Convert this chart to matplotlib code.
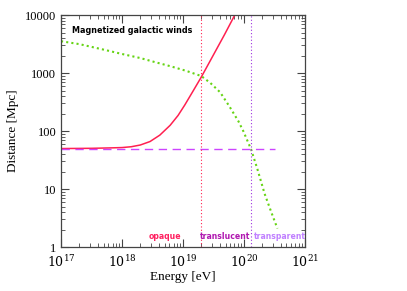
import numpy as np
import matplotlib
matplotlib.use("Agg")
import matplotlib.pyplot as plt
from matplotlib.ticker import LogLocator, NullFormatter

# curves (log10 E [eV], log10 D [Mpc])
red_logE = [17.0, 17.5, 17.8, 18.0, 18.15, 18.30, 18.46, 18.62, 18.79, 18.92,
            19.03, 19.16, 19.30, 19.42, 19.55, 19.68, 19.80, 19.86]
red_logD = [1.699, 1.703, 1.71, 1.716, 1.73, 1.76, 1.82, 1.93, 2.10, 2.27,
            2.45, 2.68, 2.93, 3.16, 3.41, 3.66, 3.90, 4.02]

green_logE = [17.0, 17.3, 17.72, 18.0, 18.3, 18.54, 18.79, 19.05, 19.30, 19.45,
              19.61, 19.76, 19.91, 19.99, 20.12, 20.22, 20.34, 20.45, 20.55]
green_logD = [3.55, 3.50, 3.40, 3.33, 3.26, 3.19, 3.12, 3.04, 2.95, 2.83,
              2.67, 2.43, 2.17, 2.00, 1.68, 1.35, 0.92, 0.60, 0.32]

dash_E = [1e17, 3.3e20]
dash_D = [50, 50]

E_opaque = 2e19
E_transp = 1.3e20

regions = ["opaque", "translucent", "transparent"]
region_x = [5.0e18, 5.0e19, 3.9e20]
region_col = ["#ff2060", "#b018b0", "#c080ff"]

plt.rcParams['font.family'] = ['Liberation Serif', 'DejaVu Serif']
plt.rcParams['mathtext.fontset'] = 'dejavuserif'

fig = plt.figure(figsize=(4.07, 2.91), dpi=100)
ax = fig.add_axes([0.150, 0.151, 0.599, 0.797])

ax.plot(10**np.array(red_logE), 10**np.array(red_logD), color="#ff2050", lw=1.1)
ax.plot(10**np.array(green_logE), 10**np.array(green_logD), color="#66d414",
        lw=1.5, ls=(0, (1, 1.5)))
ax.plot(dash_E, dash_D, color="#cc44ff", lw=1.0, ls=(0, (6, 4)))
ax.axvline(E_opaque, color="#ff2050", lw=0.8, ls=(0, (1, 2)))
ax.axvline(E_transp, color="#a030e0", lw=0.8, ls=(0, (1, 2)))

ax.set_xscale("log")
ax.set_yscale("log")
ax.set_xlim(1e17, 1e21)
ax.set_ylim(1, 1e4)

ax.set_xticks([1e17, 1e18, 1e19, 1e20, 1e21])
ax.set_xticklabels([r"$10^{17}$", r"$10^{18}$", r"$10^{19}$", r"$10^{20}$", r"$10^{21}$"])
ax.set_yticks([1, 10, 100, 1000, 10000])
ax.set_yticklabels(["1", "10", "100", "1000", "10000"])
ax.xaxis.set_minor_locator(LogLocator(base=10, subs=np.arange(2, 10), numticks=20))
ax.yaxis.set_minor_locator(LogLocator(base=10, subs=np.arange(2, 10), numticks=20))
ax.xaxis.set_minor_formatter(NullFormatter())
ax.yaxis.set_minor_formatter(NullFormatter())
ax.tick_params(which="both", direction="in", top=True, right=True, labelsize=9,
               color="#444444")
ax.tick_params(which="major", length=6, width=0.8)
ax.tick_params(which="minor", length=3, width=0.6)
ax.tick_params(axis="x", which="major", pad=5)
for s in ax.spines.values():
    s.set_color("#444444")
    s.set_linewidth(0.9)

ax.set_xlabel("Energy [eV]", fontsize=9.5, labelpad=1)
ax.set_ylabel("Distance [Mpc]", fontsize=9.5, labelpad=4)

ax.text(0.045, 0.935, "Magnetized galactic winds", transform=ax.transAxes,
        family="DejaVu Sans", fontsize=5.8, fontweight="bold", va="center")

for name, x, c in zip(regions, region_x, region_col):
    ax.text(x, 1.5, name, color=c, ha="center", va="center",
            family="DejaVu Sans", fontsize=5.6, fontweight="bold")

fig.savefig("out.png", dpi=100)
